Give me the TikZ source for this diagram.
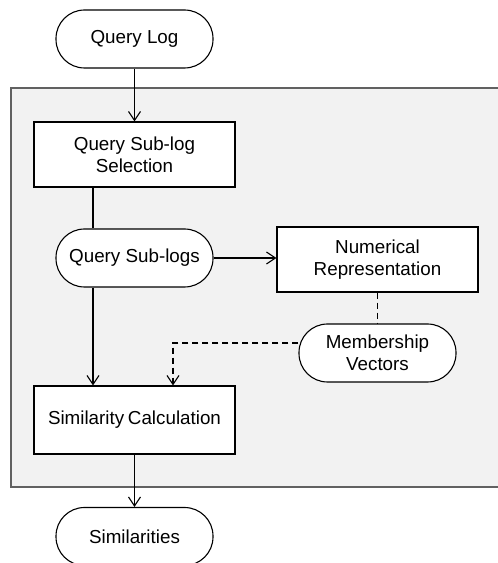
\documentclass[tikz,border=0pt]{standalone}
\usepackage{fontspec}
\setmainfont{Liberation Sans}
\usetikzlibrary{arrows.meta}
\begin{document}
\begin{tikzpicture}[x=1pt, y=1pt, line width=1.1pt, >={Straight Barb[length=9pt,width=12pt]},
    every node/.style={font=\fontsize{18.8}{21.6}\selectfont, align=center, inner sep=0pt},
    terminal/.style={draw, fill=white, rounded corners=28.5pt, minimum width=157pt, minimum height=58pt},
    process/.style={draw, fill=white, minimum width=201pt, minimum height=65pt},
    flow/.style={dash pattern=on 6pt off 4pt}]
            \clip (0,0) rectangle (498,563);
            \useasboundingbox (0,0) rectangle (498,563);
            \draw [line width=2.4pt, draw=black!62, fill=black!5] (11,475) rectangle (520,76);
            \node [terminal] (QLog) at (134.5,524) {Query Log};
            \node [process] (Select) at (134.5,408.5) {Query Sub-log\\Selection};
            \node [terminal] (SubLogs) at (134.5,305) {Query Sub-logs};
            \node [process] (Numer) at (377.5,303.5) {Numerical\\Representation};
            \node [terminal] (Member) at (377.5,210) {Membership\\Vectors};
            \node [process, minimum height=68pt] (SimCalc) at (134.5,143) {Similarity\hspace{-1.5pt} Calculation};
            \node [terminal] (Sims) at (134.5,26.5) {Similarities};
            \path [->] (QLog) edge (Select);
            \draw ([xshift=-41.5pt]Select.south) -- ([xshift=-41.5pt]SubLogs.north);
            \draw [->] ([xshift=-41.5pt]SubLogs.south) -- ([xshift=-41.5pt]SimCalc.north);
            \draw [->] (SubLogs.east) -- (SubLogs.east -| Numer.west);
            \draw [flow] (Numer.south) -- (Member.north);
            \draw [flow, ->] ([yshift=10pt]Member.west) -| ([xshift=38.5pt]SimCalc.north);
            \path [->] (SimCalc) edge (Sims);
        \end{tikzpicture}
\end{document}
